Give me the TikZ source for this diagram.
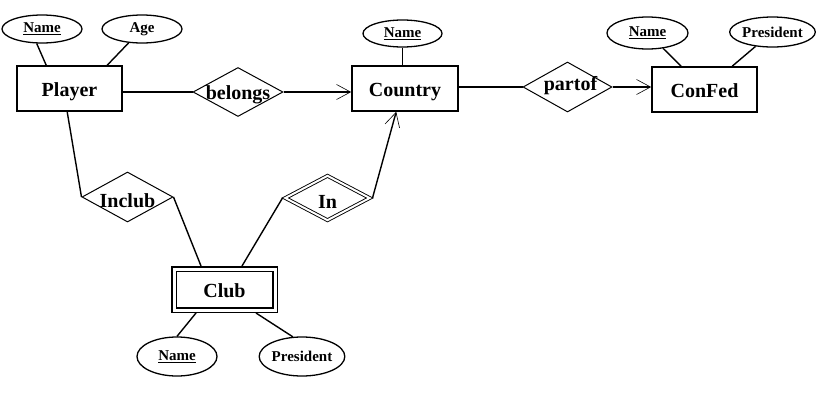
\documentclass[tikz,border=0pt]{standalone}
\usepackage{fontspec}
\setmainfont{Liberation Serif}
\usetikzlibrary{shapes.geometric,arrows.meta}
\newcommand\ERbig{\fontsize{20}{22}\selectfont\bfseries}
\newcommand\ERsmall{\fontsize{15}{16}\selectfont\bfseries}
\begin{document}
\begin{tikzpicture}[x=1pt,y=-1pt,
  entity/.style={draw, rectangle, line width=1.6pt, minimum width=105pt, minimum height=45pt, inner sep=0pt, font=\ERbig, text height=15pt, text depth=0pt},
  attr/.style={draw, ellipse, line width=1.3pt, minimum width=80pt, minimum height=28pt, inner sep=0pt, font=\ERsmall},
  rel/.style={draw, diamond, line width=1pt, inner sep=0pt, minimum width=90pt, minimum height=49pt},
  rellabel/.style={font=\ERbig, inner sep=0pt, text height=15pt, text depth=0pt},
  conn/.style={line width=1.4pt},
  arr/.style={conn, -{Straight Barb[length=14pt,width=15pt,line width=0.6pt]}},
]
\useasboundingbox[fill=white] (0,0) rectangle (823,408);

\node[entity] (player) at (69.5,88.5) {Player};
\node[attr] (pname) at (42,29) {\underline{Name}};
\node[attr] (page) at (142,29) {Age};
\node[rel, label={[rellabel]center:belongs}] (belongs) at (238,92) {};
\node[entity, minimum width=106pt] (country) at (405,88.5) {Country};
\node[attr, minimum width=79pt, minimum height=27pt] (cname) at (402.5,33.5) {\underline{Name}};
\node[rel, minimum width=89pt, minimum height=50pt, label={[rellabel, xshift=3pt, yshift=4pt]center:partof}] (partof) at (567.5,87) {};
\node[entity] (confed) at (704.5,89.5) {ConFed};
\node[attr, minimum width=81pt, minimum height=32pt] (fname) at (647.5,33) {\underline{Name}};
\node[attr, minimum width=81pt, minimum height=30pt] (fpres) at (772.5,32) {President};
\node[rel, minimum width=91pt, minimum height=50pt, label={[rellabel, yshift=-2.5pt]center:Inclub}] (inclub) at (127.5,197) {};
\node[rel, double, double distance=2pt, line width=0.9pt, outer sep=2pt, minimum width=86pt, minimum height=46pt, label={[rellabel, yshift=-2.5pt]center:In}] (in) at (327.5,198) {};
\node[entity, double, double distance=3pt, line width=1.5pt, outer sep=3pt, minimum width=101pt, minimum height=41pt] (club) at (224.5,289.5) {Club};
\node[attr, minimum height=39pt] (clname) at (177,356.5) {\underline{Name}};
\node[attr, minimum height=39pt] (clpres) at (302,356.5) {President};

\draw[conn] (pname.-110) -- ([xshift=30pt]player.north west);
\draw[conn] (page) -- ([xshift=91pt]player.north west);
\draw[conn] (cname.south) -- (cname.south |- country.north);
\draw[conn] (fname) -- ([xshift=30pt]confed.north west);
\draw[conn] (fpres) -- ([xshift=81pt]confed.north west);
\draw[conn] (player.east |- belongs.west) -- (belongs.west);
\draw[arr] (belongs.east) -- (belongs.east -| country.west);
\draw[conn] (country.east |- partof.west) -- (partof.west);
\draw[arr] (partof.east) -- (partof.east -| confed.west);
\draw[conn] ([xshift=51pt]player.south west) -- (inclub.west);
\draw[conn] (inclub.east) -- ([xshift=30pt]club.north west);
\draw[conn] ([xshift=71pt]club.north west) -- (in.west);
\draw[arr] (in.east) -- ([xshift=45pt]country.south west);
\draw[conn] ([xshift=25pt]club.south west) -- (clname.north);
\draw[conn] ([xshift=85pt]club.south west) -- (clpres.115);
\end{tikzpicture}
\end{document}
